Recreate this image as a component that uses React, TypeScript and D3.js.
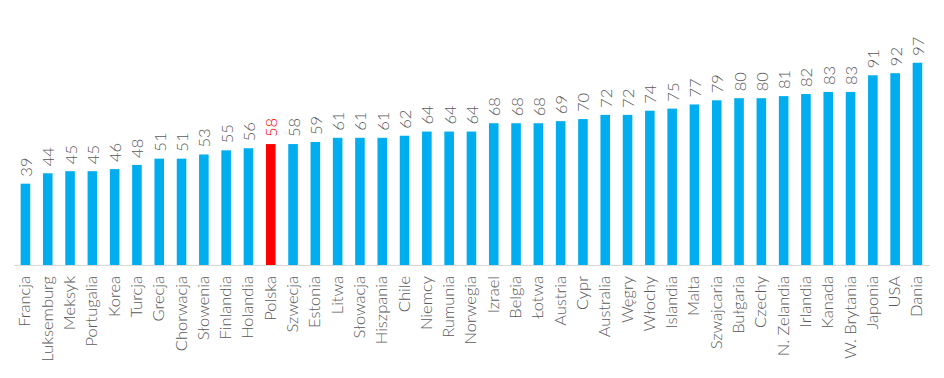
import React from "react";
import * as d3 from "d3";

const categories = ["Francja","Luksemburg","Meksyk","Portugalia","Korea","Turcja","Grecja","Chorwacja","Słowenia","Finlandia","Holandia","Polska","Szwecja","Estonia","Litwa","Słowacja","Hiszpania","Chile","Niemcy","Rumunia","Norwegia","Izrael","Belgia","Łotwa","Austria","Cypr","Australia","Węgry","Włochy","Islandia","Malta","Szwajcaria","Bułgaria","Czechy","N. Zelandia","Irlandia","Kanada","W. Brytania","Japonia","USA","Dania"];
const values = [39,44,45,45,46,48,51,51,53,55,56,58,58,59,61,61,61,62,64,64,64,68,68,68,69,70,72,72,74,75,77,79,80,80,81,82,83,83,91,92,97];
const highlighted = ["Polska"];

export default function App() {
  const W = 944, H = 378;
  const baseY = 265;
  const x = d3.scaleBand<string>().domain(categories).range([14.3, 928.6]).paddingInner(0.57).paddingOuter(0.285);
  const y = d3.scaleLinear().domain([0, 100]).range([baseY, 56.5]);
  const font = "Lato, 'Open Sans', sans-serif";
  return (
    <svg width={W} height={H} style={{ position: "absolute", left: 0, top: 0, background: "#fff" }}>
      {categories.map((c, i) => {
        const v = values[i];
        const hl = highlighted.includes(c);
        const cx = x(c)! + x.bandwidth() / 2;
        return (
          <g key={c}>
            <rect x={x(c)} y={y(v)} width={x.bandwidth()} height={baseY - y(v)} fill={hl ? "#FF0000" : "#00AEEF"} />
            <text transform={`translate(${cx + 6.5},${y(v) - 7}) rotate(-90)`} fontFamily={font} fontWeight={300} fontSize={16.5} fill={hl ? "#FF0000" : "#595959"}>{v}</text>
            <text transform={`translate(${cx + 5},${baseY + 11}) rotate(-90)`} textAnchor="end" fontFamily={font} fontWeight={300} fontSize={16.5} fill="#595959">{c}</text>
          </g>
        );
      })}
      <line x1={14} x2={930} y1={baseY + 0.5} y2={baseY + 0.5} stroke="#D9D9D9" strokeWidth={1} />
    </svg>
  );
}
